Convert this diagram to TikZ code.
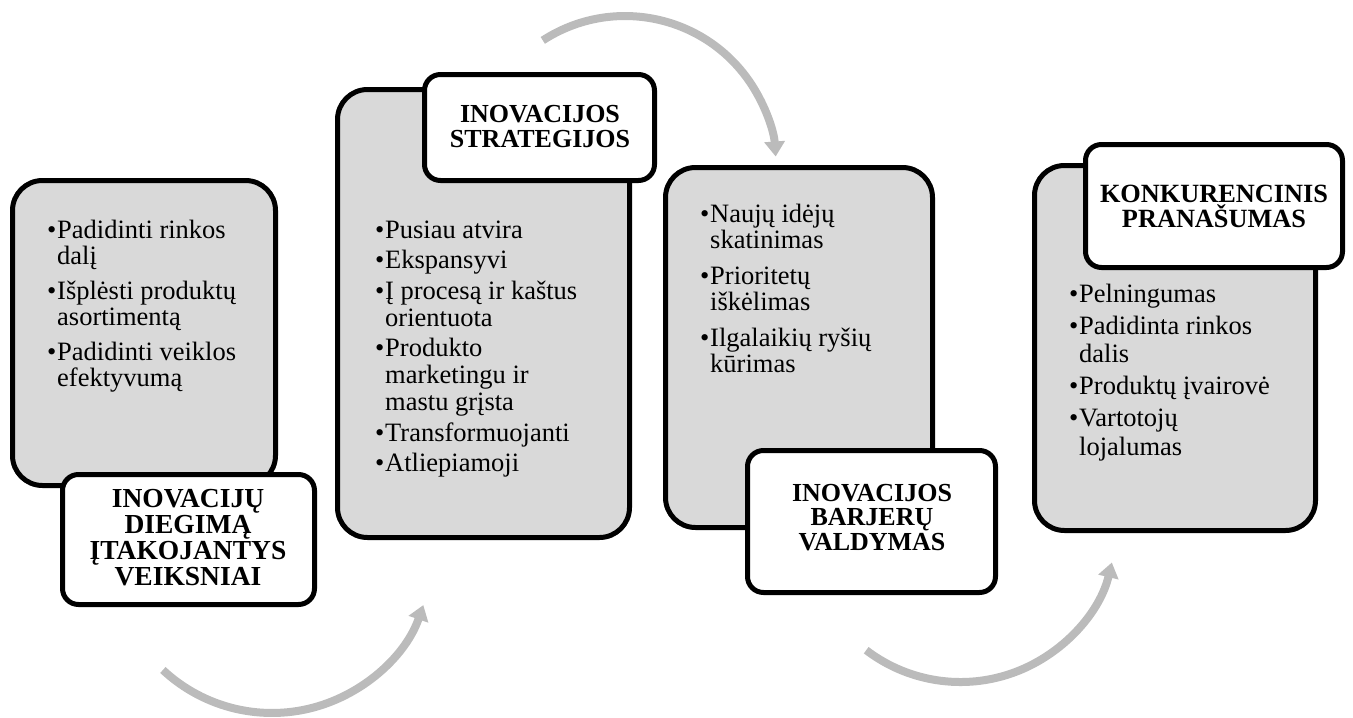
\documentclass[tikz,border=0pt]{standalone}
\usepackage{fontspec}
\setmainfont{Liberation Serif}
\usetikzlibrary{arrows.meta}
\definecolor{panelgray}{HTML}{D9D9D9}
\definecolor{flowgray}{HTML}{BBBBBB}
% one bulleted paragraph with a hanging indent
\newcommand{\bul}{\par\hangindent=10pt\hangafter=1\noindent\makebox[10pt][l]{\textbullet}}
% bullet list: #1 width, #2 baselineskip, #3 space between items, #4 items
\newcommand{\blist}[4]{\parbox[t]{#1}{\fontsize{26.5}{#2}\selectfont\raggedright\parskip=#3\relax #4}}
% centred bold heading: #1 font size, #2 baselineskip, #3 lines
\newcommand{\heading}[3]{\parbox[t]{250pt}{\centering\fontsize{#1}{#2}\selectfont\bfseries #3}}
\tikzset{
  panel/.style={draw=black, line width=5pt, fill=panelgray, rounded corners=30pt,
    anchor=north west, inner sep=0pt, outer sep=0pt},
  tab/.style={draw=black, line width=5pt, fill=white, rounded corners=16pt,
    anchor=north west, inner sep=0pt, outer sep=0pt},
  bodytext/.style={anchor=base west, inner sep=0pt},
  title/.style={anchor=base, inner sep=0pt},
  flow/.style={draw=flowgray, line width=8pt, -{Triangle[width=20pt,length=15pt]}}
}
\begin{document}
\begin{tikzpicture}[x=1pt,y=-1pt]
\useasboundingbox (0,0) rectangle (1353,718);

% curved arrows between the stages
\coordinate (a1) at (162.9,670.0);
\coordinate (a2) at (542.8,40.4);
\coordinate (a3) at (866.2,650.2);
\draw[flow] (a1) arc[start angle=133, end angle=19, radius=160];
\draw[flow] (a2) arc[start angle=-123, end angle=-4, radius=151];
\draw[flow] (a3) arc[start angle=127.3, end angle=13.4, radius=155.6];

% stage 1
\node[panel, minimum width=263pt, minimum height=305pt] (p1) at (12.5,180.5) {};
\node[bodytext] (t1) at (47,238) {\blist{205pt}{26pt}{9pt}{%
  \bul Padidinti rinkos dalį
  \bul Išplėsti produktų asortimentą
  \bul Padidinti veiklos efektyvumą}};
\node[tab, minimum width=252pt, minimum height=130pt] (l1) at (62.5,474.5) {};
\node[title] (h1) at (188,507) {\heading{27.5}{26}{INOVACIJŲ\\DIEGIMĄ\\ĮTAKOJANTYS\\VEIKSNIAI}};

% stage 2
\node[panel, minimum width=292pt, minimum height=448pt] (p2) at (337.5,89.5) {};
\node[bodytext] (t2) at (375,238) {\blist{213pt}{27pt}{3.5pt}{%
  \bul Pusiau atvira
  \bul Ekspansyvi
  \bul Į procesą ir kaštus orientuota
  \bul Produkto marketingu ir mastu grįsta
  \bul Transformuojanti
  \bul Atliepiamoji}};
\node[tab, minimum width=230pt, minimum height=106pt] (l2) at (424.5,74.5) {};
\node[title] (h2) at (540,122) {\heading{26}{25}{INOVACIJOS\\STRATEGIJOS}};

% stage 3
\node[panel, minimum width=267pt, minimum height=360pt] (p3) at (665.5,167.5) {};
\node[bodytext] (t3) at (700,222) {\blist{200pt}{26.5pt}{9pt}{%
  \bul Naujų idėjų skatinimas
  \bul Prioritetų iškėlimas
  \bul Ilgalaikių ryšių kūrimas}};
\node[tab, minimum width=248pt, minimum height=142pt] (l3) at (747.5,450.5) {};
\node[title] (h3) at (872,501) {\heading{26}{24.8}{INOVACIJOS\\BARJERŲ\\VALDYMAS}};

% stage 4
\node[panel, minimum width=281pt, minimum height=365pt] (p4) at (1034.5,165.5) {};
\node[bodytext] (t4) at (1069,302) {\blist{210pt}{28.5pt}{3.5pt}{%
  \bul Pelningumas
  \bul Padidinta rinkos dalis
  \bul Produktų įvairovė
  \bul Vartotojų lojalumas}};
\node[tab, minimum width=257pt, minimum height=123pt] (l4) at (1085.5,144.5) {};
\node[title] (h4) at (1214,202) {\heading{26.3}{25}{KONKURENCINIS\\PRANAŠUMAS}};
\end{tikzpicture}
\end{document}
